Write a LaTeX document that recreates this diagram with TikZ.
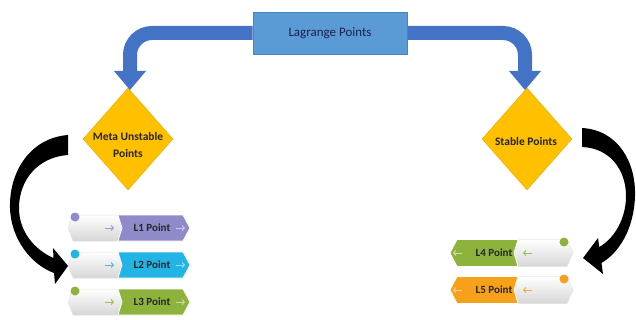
\documentclass[tikz,border=0pt]{standalone}
\usepackage{fontspec}
\setmainfont{Carlito}
\usetikzlibrary{shapes.geometric,calc,arrows.meta}
\definecolor{lagfill}{HTML}{5B9BD5}
\definecolor{lagdraw}{HTML}{4A84C0}
\definecolor{bandc}{HTML}{4472C4}
\definecolor{goldc}{HTML}{FFC000}
\definecolor{lavc}{HTML}{8F8AC9}
\definecolor{cyanc}{HTML}{22B4E4}
\definecolor{grnc}{HTML}{8DB33C}
\definecolor{orngc}{HTML}{F7A11A}
\definecolor{txtc}{HTML}{262626}
\tikzset{
  lagbox/.style={rectangle, fill=lagfill, draw=lagdraw, line width=0.6pt,
    minimum width=154pt, minimum height=42pt, inner sep=0pt,
    font=\fontsize{13}{15}\selectfont, text=txtc!80!blue},
  dia/.style={diamond, fill=goldc, draw=goldc!90!black, line width=0.4pt,
    minimum width=90pt, minimum height=102pt, inner sep=0pt},
  diatext/.style={align=center, font=\fontsize{11.5}{17}\selectfont\bfseries, text=txtc, inner sep=0pt},
  bandline/.style={draw=bandc, line width=14pt, rounded corners=22pt},
  bandhead/.style={fill=bandc},
  rowtext/.style={font=\fontsize{11}{13}\selectfont\bfseries, text=txtc, inner sep=0pt},
  grayhex/.style={top color=white, bottom color=black!16, draw=black!10, line width=0.5pt},
  smallarr/.style={line width=1pt, -{Straight Barb[length=2.2pt,width=5pt]}},
  blackarr/.style={fill=black}
}
\newcommand\leftrow[4]{%
  \path[grayhex] (68,#2) -- (73,#2-13) -- (118,#2-13) -- (122,#2) -- (118,#2+13) -- (73,#2+13) -- cycle;
  \fill[#3, draw=white, line width=0.8pt] (118,#2-13) -- (183,#2-13) -- (190,#2) -- (183,#2+13) -- (118,#2+13) -- (122,#2) -- cycle;
  \draw[smallarr, #3!85] (105,#2) -- (114,#2);
  \draw[smallarr, white!55!#3] (176,#2) -- (185,#2);
  \fill[#3] (75,#2-11) circle (4.5pt);
  \node[rowtext] (#1) at (152,#2) {#4};
}
\newcommand\rightrow[4]{%
  \path[grayhex] (514,#2) -- (518,#2-13.5) -- (567,#2-13.5) -- (573,#2) -- (567,#2+13.5) -- (518,#2+13.5) -- cycle;
  \fill[#3, draw=white, line width=0.8pt] (450,#2) -- (457,#2-13.5) -- (518,#2-13.5) -- (514,#2) -- (518,#2+13.5) -- (457,#2+13.5) -- cycle;
  \draw[smallarr, #3!85] (532,#2) -- (523,#2);
  \draw[smallarr, white!55!#3] (462,#2) -- (453,#2);
  \fill[#3] (564,#2-11) circle (4.5pt);
  \node[rowtext] (#1) at (494,#2) {#4};
}
\begin{document}
\begin{tikzpicture}[x=1pt,y=-1pt]
\useasboundingbox[fill=white] (0,0) rectangle (636,320);

% diamonds
\node[dia] (meta) at (128,139) {};
\node[diatext] (metat) at (128,145) {Meta Unstable\\Points};
\node[dia] (stab) at (527,139) {};
\node[diatext] (stabt) at (526,142) {Stable Points};

% blue connectors
\node[lagbox] (lag) at (330,33) {Lagrange Points};
\coordinate (lend) at (130,73);
\coordinate (rend) at (525,73);
\draw[bandline] (lag.west) -| (lend);
\draw[bandline] (lag.east) -| (rend);
\fill[bandhead] (114,71) -- (146,71) -- (130,90) -- cycle;
\fill[bandhead] (509,71) -- (541,71) -- (525,90) -- cycle;
\node[lagbox] at (lag) {Lagrange Points};

% rows
\leftrow{l1}{228}{lavc}{L1 Point}
\leftrow{l2}{265}{cyanc}{L2 Point}
\leftrow{l3}{302}{grnc}{L3 Point}
\rightrow{l4}{253}{grnc}{L4 Point}
\rightrow{l5}{290}{orngc}{L5 Point}

% black curved arrows
\fill[blackarr] (68,135) .. controls (30,138) and (9,172) .. (10,208)
  .. controls (11,240) and (32,265) .. (54,273) -- (55,284) -- (68,266) -- (53,248) -- (53.5,258)
  .. controls (35,250) and (19,232) .. (19,208)
  .. controls (19,180) and (38,157) .. (68,155) -- cycle;
\fill[blackarr] (582,128) .. controls (618,130) and (636,162) .. (635,196)
  .. controls (634,228) and (620,252) .. (601.5,263) -- (603,274) -- (583,258) -- (598,238) -- (599.25,247)
  .. controls (615,238) and (626,218) .. (626,196)
  .. controls (626,170) and (610,148) .. (582,147) -- cycle;
\end{tikzpicture}
\end{document}
